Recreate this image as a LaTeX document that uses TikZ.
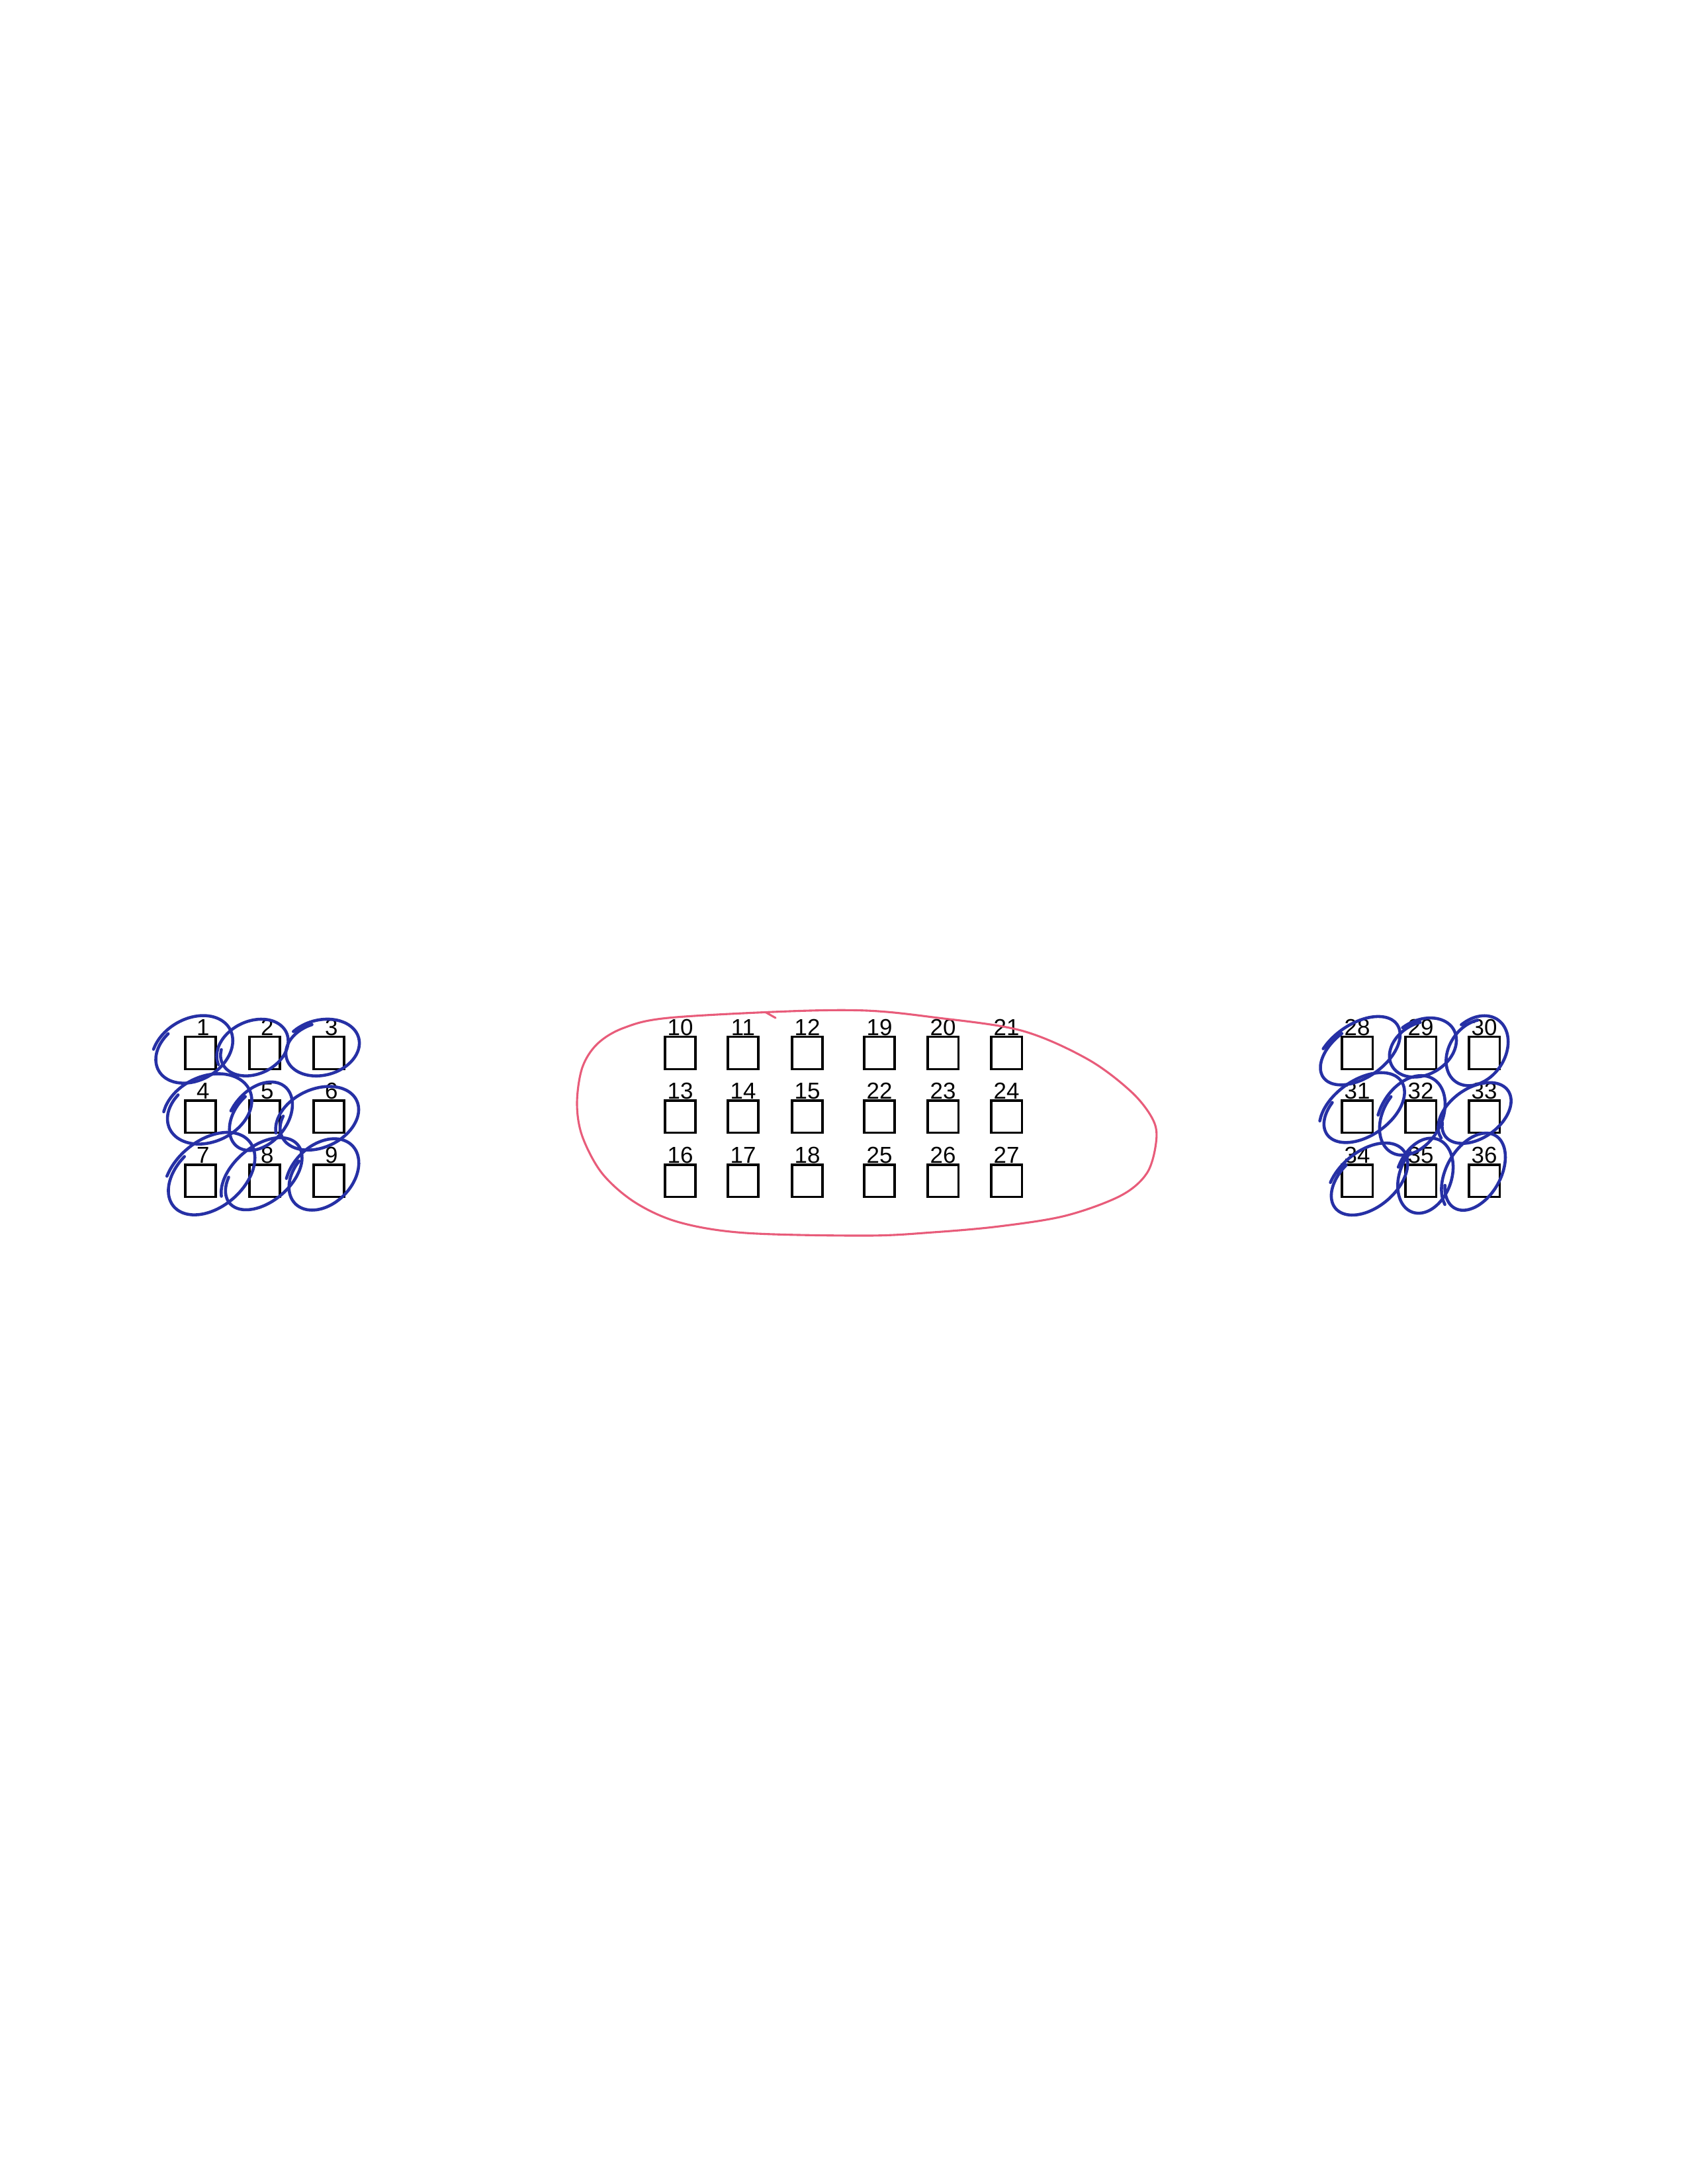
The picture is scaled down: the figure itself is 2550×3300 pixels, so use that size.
\documentclass[tikz,border=0pt]{standalone}
\usepackage{fontspec}
\setmainfont{Liberation Sans}
\definecolor{penblue}{RGB}{38,48,165}
\definecolor{penred}{RGB}{232,92,122}
\newcommand\penloop[6]{%
  \pgfmathsetmacro\loopend{#6+390}%
  \draw[bluemark] plot[smooth, domain=#6:\loopend, samples=48, variable=\t]
    ({#1 + #3*(0.94+0.12*(\t-#6)/390)*cos(\t)*cos(#5) - #4*(0.94+0.12*(\t-#6)/390)*sin(\t)*sin(#5)},
     {#2 - (#3*(0.94+0.12*(\t-#6)/390)*cos(\t)*sin(#5) + #4*(0.94+0.12*(\t-#6)/390)*sin(\t)*cos(#5))});%
}
\begin{document}
\begin{tikzpicture}[x=0.24088pt,y=-0.24088pt,
  box/.style={draw=black, line width=0.85pt, inner sep=0pt, minimum width=11.2pt, minimum height=11.7pt},
  num/.style={anchor=base, inner sep=0pt, font=\fontsize{8.4}{10}\selectfont},
  bluemark/.style={draw=penblue, line width=1.1pt, line cap=round, line join=round},
  redmark/.style={draw=penred, line width=0.75pt, line cap=round}]
\useasboundingbox (0,0) rectangle (2550,3300);
\fill[white] (0,0) rectangle (2550,3300);

% left group
\foreach \c/\x in {1/303,2/400,3/497}{
  \foreach \r/\y in {0/1591,1/1687,2/1784}{
    \pgfmathtruncatemacro\k{\c+3*\r}
    \node[box] (b\k) at (\x,\y) {};
    \node[num] (n\k) at ([xshift=0.9pt]b\k.north) {\k};
  }
}
% middle group
\foreach \c/\x in {1/1028,2/1123,3/1220}{
  \foreach \r/\y in {0/1591,1/1687,2/1784}{
    \pgfmathtruncatemacro\k{9+\c+3*\r}
    \node[box] (b\k) at (\x,\y) {};
    \node[num] (n\k) at (b\k.north) {\k};
  }
}
\foreach \c/\x in {1/1329,2/1425,3/1521}{
  \foreach \r/\y in {0/1591,1/1687,2/1784}{
    \pgfmathtruncatemacro\k{18+\c+3*\r}
    \node[box] (b\k) at (\x,\y) {};
    \node[num] (n\k) at (b\k.north) {\k};
  }
}
% right group
\foreach \c/\x in {1/2051,2/2147,3/2243}{
  \foreach \r/\y in {0/1591,1/1687,2/1784}{
    \pgfmathtruncatemacro\k{27+\c+3*\r}
    \node[box] (b\k) at (\x,\y) {};
    \node[num] (n\k) at (b\k.north) {\k};
  }
}

% red loop round the middle group
\draw[redmark] plot[smooth cycle, tension=0.55] coordinates {
  (872,1667) (880,1613) (903,1577) (943,1553) (1010,1538) (1193,1528)
  (1310,1527) (1410,1537) (1543,1557) (1643,1600) (1710,1650) (1743,1693)
  (1747,1727) (1733,1773) (1693,1807) (1610,1837) (1510,1853) (1410,1862)
  (1310,1867) (1127,1863) (1027,1847) (960,1817) (910,1773) (880,1717)};
\draw[redmark] (1158,1530) -- (1172,1538);

% blue loops, left group
\penloop{292}{1587}{63}{46}{30}{110}
\penloop{383}{1584}{55}{40}{25}{150}
\penloop{486}{1584}{57}{41}{15}{95}
\penloop{315}{1677}{68}{49}{25}{120}
\penloop{393}{1688}{58}{40}{50}{80}
\penloop{481}{1691}{64}{44}{25}{140}
\penloop{318}{1775}{76}{50}{40}{100}
\penloop{397}{1775}{69}{42}{40}{130}
\penloop{488}{1776}{62}{44}{45}{100}
% blue loops, right group
\penloop{2054}{1589}{69}{40}{35}{95}
\penloop{2149}{1584}{54}{40}{30}{70}
\penloop{2231}{1589}{56}{42}{55}{40}
\penloop{2060}{1675}{70}{42}{35}{120}
\penloop{2133}{1687}{64}{45}{60}{80}
\penloop{2230}{1683}{60}{38}{35}{150}
\penloop{2068}{1783}{68}{42}{40}{100}
\penloop{2153}{1778}{58}{40}{70}{60}
\penloop{2228}{1772}{64}{40}{60}{130}
\end{tikzpicture}
\end{document}
